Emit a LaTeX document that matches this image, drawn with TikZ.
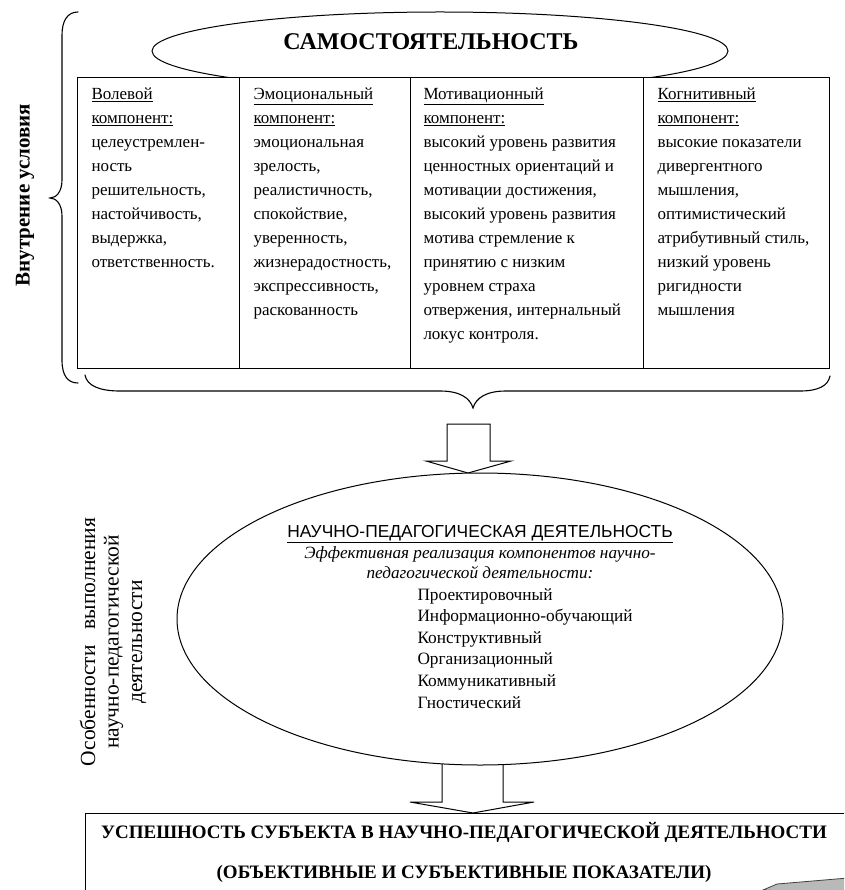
\documentclass[tikz,border=0pt]{standalone}
\usepackage{fontspec}
\setmainfont{Liberation Serif}
\setsansfont{Liberation Sans}
\usetikzlibrary{shapes.geometric}
\newcommand{\coltxt}[1]{\parbox[t]{230pt}{\raggedright\fontsize{17}{24}\selectfont #1}}
\begin{document}
\begin{tikzpicture}[x=1pt,y=-1pt,line width=1pt,
  txt/.style={inner sep=0pt,anchor=base},
  coltext/.style={inner sep=0pt,anchor=base west},
  blockarrow/.style={draw=black,fill=white,line width=1pt,line join=miter},
  bracepath/.style={draw=black,line width=1.1pt,line cap=round}]
\useasboundingbox (0,0) rectangle (844,890);
\clip (0,0) rectangle (844,890);

% top ellipse and title
\node (samo) [draw,ellipse,fill=white,inner sep=0pt,minimum width=576pt,minimum height=78pt] at (440,51) {};
\node (samotxt) [txt,font=\bfseries\fontsize{24}{28}\selectfont] at (431,50) {САМОСТОЯТЕЛЬНОСТЬ};

% table
\node (tbl) [draw,fill=white,inner sep=0pt,minimum width=752pt,minimum height=291pt,anchor=north west] at (77,77) {};
\draw (239,77) -- (239,368);
\draw (410,77) -- (410,368);
\draw (643,77) -- (643,368);

\node (c1) [coltext] at (91,100) {\coltxt{\underline{Волевой}\\\underline{компонент:}\\целеустремлен-\\ность\\решительность,\\настойчивость,\\выдержка,\\ответственность.}};
\node (c2) [coltext] at (253,100) {\coltxt{\underline{Эмоциональный}\\\underline{компонент:}\\эмоциональная\\зрелость,\\реалистичность,\\спокойствие,\\уверенность,\\жизнерадостность,\\экспрессивность,\\раскованность}};
\node (c3) [coltext] at (423,100) {\coltxt{\underline{Мотивационный}\\\underline{компонент:}\\высокий уровень развития\\ценностных ориентаций и\\мотивации достижения,\\высокий уровень развития\\мотива стремление к\\принятию с низким\\уровнем страха\\отвержения, интернальный\\локус контроля.}};
\node (c4) [coltext] at (657,100) {\coltxt{\underline{Когнитивный}\\\underline{компонент:}\\высокие показатели\\дивергентного\\мышления,\\оптимистический\\атрибутивный стиль,\\низкий уровень\\ригидности\\мышления}};

% left brace
\draw[bracepath] (78,12) .. controls (68,12) and (62,20) .. (62,35) -- (62,180)
  .. controls (62,192) and (56,198) .. (50,198)
  .. controls (56,198) and (62,204) .. (62,216) -- (62,360)
  .. controls (62,376) and (68,383) .. (78,383);
\node (vnutr) [rotate=90,inner sep=0pt,font=\bfseries\fontsize{21}{24}\selectfont] at (25,195) {Внутрение условия};

% bottom brace
\draw[bracepath] (85,375) .. controls (87,386) and (100,391) .. (120,391) -- (440,391)
  .. controls (460,391) and (470,398) .. (473,408)
  .. controls (476,398) and (486,391) .. (506,391) -- (800,391)
  .. controls (818,391) and (828,386) .. (830,376);

% arrow 1
\draw[blockarrow] (447,424) -- (490,424) -- (490,461) -- (511,461) -- (468,473) -- (426,461) -- (447,461) -- cycle;

% arrow 2 (below ellipse)
\draw[blockarrow] (442,760) -- (503,760) -- (503,802) -- (534,802) -- (473,813) -- (410,802) -- (442,802) -- cycle;

% big ellipse
\node (nped) [draw,ellipse,fill=white,inner sep=0pt,minimum width=606pt,minimum height=292pt] at (480,619) {};
\node (npedt) [txt,font=\sffamily\fontsize{17.4}{20}\selectfont] at (480,537) {\underline{НАУЧНО-ПЕДАГОГИЧЕСКАЯ ДЕЯТЕЛЬНОСТЬ}};
\node (eff1) [txt,font=\itshape\fontsize{17.2}{20}\selectfont] at (480,558) {Эффективная реализация компонентов научно-};
\node (eff2) [txt,font=\itshape\fontsize{17.2}{20}\selectfont] at (480,578) {педагогической деятельности:};
\node (lst) [coltext] at (417,600) {\parbox[t]{250pt}{\raggedright\fontsize{17.3}{21.6}\selectfont Проектировочный\\Информационно-обучающий\\Конструктивный\\Организационный\\Коммуникативный\\Гностический}};

% left rotated label
\node (osob) [rotate=90,inner sep=0pt,align=center,font=\fontsize{21.5}{23.5}\selectfont] at (113,642) {Особенности\hspace{16pt}выполнения\\научно-педагогической\\деятельности};

% bottom box
\node (usp) [draw,fill=white,inner sep=0pt,minimum width=780pt,minimum height=120pt,anchor=north west] at (85,813) {};
\node (usp1) [txt,font=\bfseries\fontsize{19}{22}\selectfont] at (464,838) {УСПЕШНОСТЬ СУБЪЕКТА В НАУЧНО-ПЕДАГОГИЧЕСКОЙ ДЕЯТЕЛЬНОСТИ};
\node (usp2) [txt,font=\bfseries\fontsize{19}{22}\selectfont] at (464,878) {(ОБЪЕКТИВНЫЕ И СУБЪЕКТИВНЫЕ ПОКАЗАТЕЛИ)};

% partial grey shape at bottom right
\filldraw[fill=gray!55,draw=black!75,line width=0.8pt] (763,890) -- (777,884) -- (848,878) -- (848,894) -- cycle;
\end{tikzpicture}
\end{document}
